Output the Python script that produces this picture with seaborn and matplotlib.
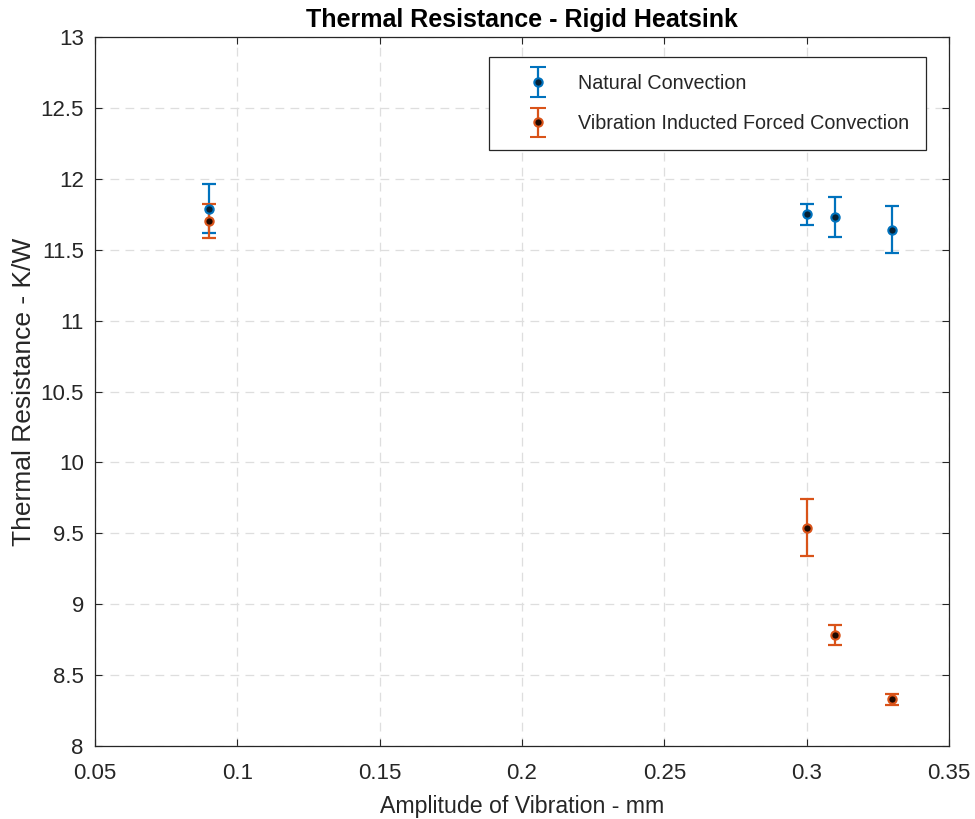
import matplotlib
matplotlib.use("Agg")
import matplotlib.pyplot as plt
from matplotlib.legend_handler import HandlerErrorbar
import seaborn as sns
import numpy as np
import pandas as pd

# Measured thermal resistance (K/W) versus vibration amplitude (mm)
amplitude_nat = [0.09, 0.30, 0.31, 0.33]
resistance_nat = [11.79, 11.75, 11.73, 11.64]
error_nat = [0.17, 0.075, 0.14, 0.165]

amplitude_forced = [0.09, 0.30, 0.31, 0.33]
resistance_forced = [11.70, 9.54, 8.78, 8.33]
error_forced = [0.12, 0.20, 0.07, 0.04]

series_names = ["Natural Convection", "Vibration Inducted Forced Convection"]
x_ticks = [0.05, 0.1, 0.15, 0.2, 0.25, 0.3, 0.35]
x_tick_labels = ["0.05", "0.1", "0.15", "0.2", "0.25", "0.3", "0.35"]
y_ticks = [8, 8.5, 9, 9.5, 10, 10.5, 11, 11.5, 12, 12.5, 13]
y_tick_labels = ["8", "8.5", "9", "9.5", "10", "10.5", "11", "11.5", "12", "12.5", "13"]

sns.set_style("white")
plt.rcParams["font.family"] = ["Liberation Sans", "DejaVu Sans"]

df = pd.concat([
    pd.DataFrame({"amp": amplitude_nat, "res": resistance_nat, "err": error_nat,
                  "series": series_names[0]}),
    pd.DataFrame({"amp": amplitude_forced, "res": resistance_forced, "err": error_forced,
                  "series": series_names[1]}),
], ignore_index=True)

line_colors = {series_names[0]: "#0072BD", series_names[1]: "#D95319"}
face_colors = {series_names[0]: "#062033", series_names[1]: "#1e0800"}

fig = plt.figure(figsize=(9.75, 8.19), dpi=100)
ax = fig.add_axes([0.0974, 0.0891, 0.8759, 0.8657])

leg_handles = []
for name in series_names:
    sub = df[df["series"] == name]
    ax.errorbar(sub["amp"], sub["res"], yerr=sub["err"], fmt="none",
                ecolor=line_colors[name], elinewidth=1.6, capsize=5, capthick=1.6,
                zorder=3)
    sns.scatterplot(x=sub["amp"], y=sub["res"], ax=ax, color=face_colors[name],
                    edgecolor=line_colors[name], linewidth=1.5, s=36,
                    legend=False, zorder=4)
    # proxy artist for the legend entry
    leg_handles.append(ax.errorbar([np.nan], [np.nan], yerr=[1], fmt="o",
                                   color=line_colors[name],
                                   markerfacecolor=face_colors[name],
                                   markeredgecolor=line_colors[name],
                                   markersize=6, markeredgewidth=1.5,
                                   elinewidth=1.6, capsize=5.5, capthick=1.6))

ax.set_xlim(0.05, 0.35)
ax.set_ylim(8, 13)
ax.set_xticks(x_ticks)
ax.set_xticklabels(x_tick_labels)
ax.set_yticks(y_ticks)
ax.set_yticklabels(y_tick_labels)

ax.grid(True, linestyle=(0, (7, 5)), color="#dedede", linewidth=0.9)
ax.set_axisbelow(True)
for sp in ax.spines.values():
    sp.set_color("#262626")
    sp.set_linewidth(0.9)
    sp.set_visible(True)

ax.tick_params(axis="both", direction="in", length=5, width=0.8, color="#262626",
               labelsize=16, labelcolor="#262626", top=True, right=True,
               bottom=True, left=True)
ax.tick_params(axis="x", pad=12)
ax.tick_params(axis="y", pad=8)

ax.set_xlabel("Amplitude of Vibration - mm", fontsize=16.7, color="#262626", labelpad=8)
ax.set_ylabel("Thermal Resistance - K/W", fontsize=19, color="#262626", labelpad=3)
ax.set_title("Thermal Resistance - Rigid Heatsink", fontsize=18, fontweight="bold",
             color="black", pad=7)

leg = ax.legend(leg_handles, series_names, loc="upper left",
                bbox_to_anchor=(0.461, 0.972), fontsize=14.2, frameon=True,
                fancybox=False, edgecolor="#262626", framealpha=1,
                borderpad=0.85, labelspacing=1.1, handlelength=3.3,
                handletextpad=0.4, borderaxespad=0,
                handler_map={type(leg_handles[0]): HandlerErrorbar(xerr_size=0.75)})
leg.get_frame().set_linewidth(0.9)
for t in leg.get_texts():
    t.set_color("#262626")

fig.savefig("out.png", dpi=100)
